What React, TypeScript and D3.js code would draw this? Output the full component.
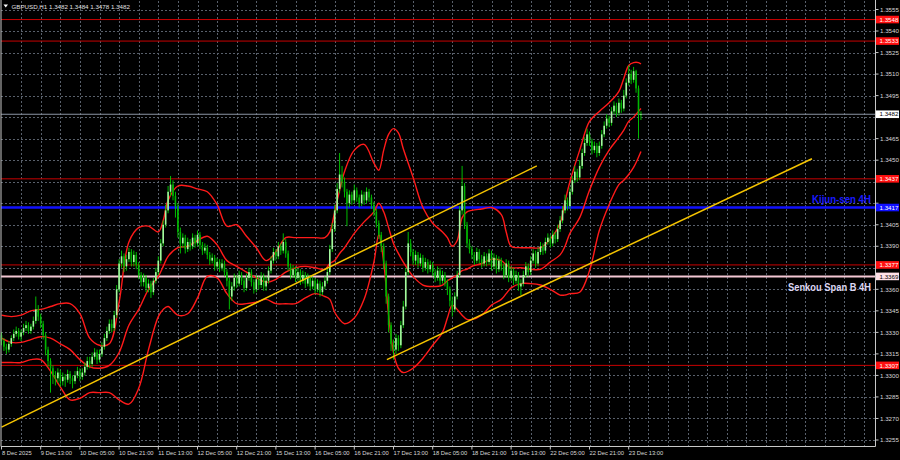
import React, { useLayoutEffect, useRef, useState } from "react";
import * as d3 from "d3";

const W = 900;
const H = 460;

const SYMBOL = "GBPUSD,H1";
const HEADER_OHLC = ["1.3482", "1.3484", "1.3478", "1.3482"];
const FIRST_OPEN = 1.3328;

const closes = [
  1.3324,1.3320,1.3318,1.3322,1.3326,1.3329,1.3331,1.3327,1.3330,1.3333,
  1.3335,1.3331,1.3334,1.3338,1.3346,1.3341,1.3336,1.3328,1.3318,1.3310,
  1.3305,1.3300,1.3298,1.3302,1.3296,1.3299,1.3297,1.3301,1.3298,1.3296,
  1.3300,1.3303,1.3299,1.3302,1.3306,1.3310,1.3308,1.3313,1.3316,1.3311,
  1.3315,1.3320,1.3326,1.3331,1.3336,1.3333,1.3342,1.3360,1.3378,1.3383,
  1.3376,1.3381,1.3386,1.3379,1.3384,1.3377,1.3370,1.3365,1.3368,1.3361,
  1.3364,1.3358,1.3366,1.3372,1.3380,1.3392,1.3405,1.3415,1.3428,1.3433,
  1.3425,1.3418,1.3400,1.3392,1.3396,1.3388,1.3393,1.3390,1.3396,1.3392,
  1.3398,1.3391,1.3387,1.3389,1.3384,1.3380,1.3382,1.3376,1.3379,1.3375,
  1.3378,1.3372,1.3366,1.3355,1.3362,1.3368,1.3364,1.3370,1.3366,1.3361,
  1.3368,1.3372,1.3365,1.3360,1.3367,1.3363,1.3369,1.3362,1.3366,1.3373,
  1.3380,1.3386,1.3383,1.3390,1.3387,1.3393,1.3385,1.3376,1.3370,1.3374,
  1.3368,1.3372,1.3366,1.3370,1.3364,1.3368,1.3362,1.3366,1.3360,1.3364,
  1.3358,1.3362,1.3366,1.3372,1.3388,1.3402,1.3415,1.3430,1.3440,1.3435,
  1.3428,1.3420,1.3426,1.3422,1.3429,1.3424,1.3420,1.3426,1.3422,1.3428,
  1.3424,1.3419,1.3414,1.3406,1.3398,1.3390,1.3378,1.3355,1.3335,1.3322,
  1.3318,1.3326,1.3321,1.3335,1.3348,1.3372,1.3392,1.3386,1.3380,1.3384,
  1.3378,1.3382,1.3375,1.3379,1.3374,1.3377,1.3372,1.3368,1.3373,1.3366,
  1.3370,1.3365,1.3360,1.3352,1.3346,1.3355,1.3370,1.3415,1.3432,1.3405,
  1.3392,1.3388,1.3384,1.3380,1.3386,1.3381,1.3378,1.3383,1.3379,1.3385,
  1.3376,1.3382,1.3374,1.3380,1.3376,1.3370,1.3378,1.3368,1.3373,1.3366,
  1.3370,1.3362,1.3364,1.3370,1.3376,1.3372,1.3380,1.3385,1.3378,1.3386,
  1.3390,1.3387,1.3393,1.3396,1.3392,1.3398,1.3395,1.3402,1.3408,1.3415,
  1.3422,1.3418,1.3428,1.3436,1.3442,1.3438,1.3446,1.3455,1.3462,1.3468,
  1.3463,1.3457,1.3460,1.3455,1.3460,1.3468,1.3474,1.3479,1.3476,1.3484,
  1.3488,1.3483,1.3490,1.3486,1.3495,1.3504,1.3510,1.3506,1.3512,1.3500,
  1.3482,1.3482,
];

const highs = [
  1.3330,1.3326,1.3322,1.3324,1.3328,1.3332,1.3334,1.3333,1.3332,1.3336,
  1.3338,1.3337,1.3336,1.3341,1.3355,1.3349,1.3343,1.3338,1.3330,1.3320,
  1.3312,1.3307,1.3303,1.3305,1.3304,1.3302,1.3301,1.3304,1.3303,1.3300,
  1.3303,1.3306,1.3305,1.3305,1.3309,1.3313,1.3313,1.3316,1.3319,1.3318,
  1.3318,1.3323,1.3329,1.3334,1.3339,1.3339,1.3345,1.3363,1.3381,1.3387,
  1.3385,1.3384,1.3389,1.3388,1.3387,1.3386,1.3379,1.3372,1.3371,1.3370,
  1.3367,1.3366,1.3368,1.3375,1.3383,1.3395,1.3408,1.3419,1.3432,1.3439,
  1.3436,1.3428,1.3420,1.3403,1.3399,1.3398,1.3396,1.3395,1.3399,1.3398,
  1.3401,1.3400,1.3393,1.3392,1.3391,1.3386,1.3385,1.3384,1.3382,1.3381,
  1.3381,1.3380,1.3374,1.3368,1.3365,1.3371,1.3370,1.3373,1.3372,1.3368,
  1.3371,1.3375,1.3374,1.3367,1.3370,1.3369,1.3372,1.3371,1.3369,1.3376,
  1.3383,1.3389,1.3388,1.3393,1.3392,1.3399,1.3395,1.3387,1.3378,1.3377,
  1.3376,1.3375,1.3374,1.3373,1.3372,1.3371,1.3370,1.3369,1.3368,1.3367,
  1.3366,1.3365,1.3369,1.3375,1.3391,1.3406,1.3419,1.3434,1.3455,1.3446,
  1.3438,1.3430,1.3429,1.3428,1.3433,1.3431,1.3426,1.3429,1.3428,1.3431,
  1.3430,1.3426,1.3421,1.3416,1.3408,1.3400,1.3392,1.3380,1.3357,1.3337,
  1.3325,1.3329,1.3328,1.3338,1.3352,1.3375,1.3400,1.3395,1.3388,1.3387,
  1.3386,1.3385,1.3384,1.3382,1.3381,1.3380,1.3379,1.3374,1.3376,1.3375,
  1.3373,1.3372,1.3367,1.3362,1.3355,1.3358,1.3373,1.3418,1.3446,1.3434,
  1.3407,1.3395,1.3390,1.3386,1.3389,1.3388,1.3384,1.3386,1.3385,1.3388,
  1.3387,1.3385,1.3384,1.3383,1.3382,1.3378,1.3381,1.3380,1.3376,1.3375,
  1.3373,1.3372,1.3367,1.3373,1.3379,1.3378,1.3383,1.3388,1.3387,1.3389,
  1.3393,1.3392,1.3396,1.3399,1.3398,1.3401,1.3400,1.3405,1.3411,1.3418,
  1.3426,1.3424,1.3431,1.3439,1.3446,1.3444,1.3450,1.3458,1.3466,1.3472,
  1.3470,1.3465,1.3463,1.3462,1.3463,1.3471,1.3477,1.3482,1.3481,1.3487,
  1.3491,1.3490,1.3493,1.3492,1.3499,1.3507,1.3516,1.3513,1.3515,1.3513,
  1.3502,1.3484,
];

const lows = [
  1.3321,1.3317,1.3315,1.3316,1.3320,1.3324,1.3327,1.3325,1.3324,1.3328,
  1.3331,1.3329,1.3329,1.3332,1.3336,1.3338,1.3333,1.3325,1.3314,1.3306,
  1.3288,1.3294,1.3293,1.3295,1.3292,1.3293,1.3292,1.3295,1.3294,1.3291,
  1.3294,1.3298,1.3296,1.3297,1.3300,1.3304,1.3305,1.3306,1.3311,1.3308,
  1.3309,1.3313,1.3318,1.3324,1.3329,1.3330,1.3331,1.3340,1.3358,1.3375,
  1.3372,1.3373,1.3379,1.3376,1.3376,1.3374,1.3367,1.3362,1.3362,1.3358,
  1.3358,1.3354,1.3356,1.3364,1.3370,1.3378,1.3390,1.3403,1.3413,1.3425,
  1.3422,1.3410,1.3396,1.3385,1.3389,1.3385,1.3386,1.3387,1.3388,1.3389,
  1.3390,1.3388,1.3384,1.3385,1.3381,1.3377,1.3378,1.3373,1.3374,1.3372,
  1.3373,1.3369,1.3362,1.3346,1.3352,1.3359,1.3361,1.3362,1.3363,1.3358,
  1.3359,1.3366,1.3362,1.3357,1.3358,1.3360,1.3361,1.3359,1.3359,1.3364,
  1.3371,1.3378,1.3380,1.3381,1.3384,1.3385,1.3382,1.3373,1.3367,1.3368,
  1.3365,1.3366,1.3363,1.3364,1.3361,1.3362,1.3359,1.3360,1.3357,1.3358,
  1.3355,1.3356,1.3360,1.3364,1.3370,1.3386,1.3400,1.3413,1.3427,1.3431,
  1.3424,1.3404,1.3417,1.3419,1.3420,1.3421,1.3417,1.3418,1.3419,1.3420,
  1.3421,1.3416,1.3411,1.3403,1.3395,1.3386,1.3374,1.3350,1.3330,1.3317,
  1.3311,1.3315,1.3317,1.3319,1.3333,1.3346,1.3370,1.3383,1.3377,1.3377,
  1.3375,1.3376,1.3372,1.3373,1.3371,1.3372,1.3369,1.3365,1.3366,1.3363,
  1.3364,1.3362,1.3356,1.3348,1.3341,1.3344,1.3353,1.3368,1.3412,1.3402,
  1.3389,1.3385,1.3381,1.3377,1.3378,1.3378,1.3375,1.3376,1.3376,1.3377,
  1.3373,1.3374,1.3371,1.3372,1.3373,1.3367,1.3368,1.3365,1.3366,1.3363,
  1.3364,1.3359,1.3356,1.3362,1.3368,1.3369,1.3370,1.3378,1.3375,1.3376,
  1.3384,1.3384,1.3385,1.3391,1.3389,1.3390,1.3392,1.3393,1.3400,1.3406,
  1.3413,1.3415,1.3416,1.3426,1.3434,1.3435,1.3436,1.3444,1.3453,1.3460,
  1.3460,1.3454,1.3455,1.3452,1.3453,1.3458,1.3466,1.3472,1.3473,1.3474,
  1.3482,1.3480,1.3481,1.3483,1.3484,1.3493,1.3502,1.3503,1.3504,1.3497,
  1.3465,1.3478,
];

// Bollinger band values read at sample bars
const bandIdx = [
  0,4,8,12,16,20,24,28,32,36,40,44,48,52,56,60,64,66,68,72,
  76,80,84,88,92,96,100,104,108,112,116,120,124,128,132,134,136,138,140,144,
  148,152,154,156,158,160,162,164,168,172,176,180,182,184,186,188,190,192,196,200,
  204,206,208,212,216,220,224,228,230,232,236,240,244,248,252,254,256,258,260,261,
];
const bandUpper = [
  1.3342,1.3341,1.3342,1.3345,1.3346,1.3348,1.3350,1.3350,1.3343,1.3326,1.3321,1.3322,1.3351,1.3393,1.3403,1.3404,1.3400,1.3408,1.3422,1.3432,
  1.3432,1.3430,1.3428,1.3419,1.3404,1.3405,1.3397,1.3389,1.3380,1.3386,1.3396,1.3396,1.3396,1.3396,1.3396,1.3400,1.3414,1.3429,1.3442,1.3457,
  1.3461,1.3448,1.3443,1.3457,1.3468,1.3472,1.3469,1.3458,1.3438,1.3417,1.3406,1.3400,1.3396,1.3390,1.3394,1.3410,1.3414,1.3415,1.3416,1.3417,
  1.3412,1.3400,1.3390,1.3389,1.3389,1.3389,1.3395,1.3406,1.3421,1.3435,1.3457,1.3477,1.3484,1.3490,1.3498,1.3507,1.3516,1.3518,1.3518,1.3517,
];
const bandMiddle = [
  1.3326,1.3323,1.3323,1.3325,1.3327,1.3326,1.3322,1.3318,1.3311,1.3306,1.3305,1.3307,1.3316,1.3335,1.3346,1.3360,1.3369,1.3376,1.3383,1.3389,
  1.3390,1.3394,1.3397,1.3391,1.3380,1.3376,1.3372,1.3368,1.3365,1.3367,1.3372,1.3375,1.3376,1.3375,1.3374,1.3378,1.3380,1.3385,1.3389,1.3399,
  1.3407,1.3414,1.3420,1.3414,1.3403,1.3392,1.3385,1.3379,1.3369,1.3363,1.3362,1.3363,1.3366,1.3368,1.3370,1.3373,1.3374,1.3376,1.3378,1.3381,
  1.3380,1.3377,1.3375,1.3375,1.3374,1.3374,1.3379,1.3384,1.3390,1.3399,1.3410,1.3429,1.3445,1.3457,1.3466,1.3471,1.3477,1.3480,1.3484,1.3486,
];
const bandLower = [
  1.3309,1.3309,1.3309,1.3311,1.3311,1.3303,1.3292,1.3283,1.3284,1.3288,1.3288,1.3288,1.3283,1.3280,1.3291,1.3318,1.3341,1.3346,1.3348,1.3342,
  1.3343,1.3354,1.3369,1.3368,1.3357,1.3350,1.3350,1.3351,1.3353,1.3350,1.3350,1.3350,1.3354,1.3357,1.3355,1.3353,1.3344,1.3339,1.3336,1.3340,
  1.3353,1.3379,1.3398,1.3379,1.3342,1.3316,1.3305,1.3302,1.3305,1.3312,1.3321,1.3330,1.3340,1.3349,1.3346,1.3342,1.3339,1.3339,1.3342,1.3349,
  1.3353,1.3357,1.3361,1.3364,1.3364,1.3363,1.3360,1.3356,1.3356,1.3357,1.3358,1.3373,1.3401,1.3419,1.3433,1.3436,1.3440,1.3445,1.3452,1.3456,
];

const timeLabels = [
  "8 Dec 2025", "9 Dec 13:00", "10 Dec 05:00", "10 Dec 21:00", "11 Dec 13:00",
  "12 Dec 05:00", "12 Dec 21:00", "15 Dec 13:00", "16 Dec 05:00", "16 Dec 21:00",
  "17 Dec 13:00", "18 Dec 05:00", "18 Dec 21:00", "19 Dec 13:00", "22 Dec 05:00",
  "22 Dec 21:00", "23 Dec 13:00",
];
const BARS_PER_LABEL = 16;
const BARS_PER_GRID = 8;

const priceTicks = [
  1.3555, 1.3540, 1.3525, 1.3510, 1.3495, 1.3480, 1.3465, 1.3450, 1.3435, 1.3420, 1.3405,
  1.3390, 1.3375, 1.3360, 1.3345, 1.3330, 1.3315, 1.3300, 1.3285, 1.3270, 1.3255,
];

const redLevels = [1.3548, 1.3533, 1.3437, 1.3377, 1.3307];
const KIJUN = 1.3417;
const SENKOU_B = 1.3369;
const CURRENT = 1.3482;
const KIJUN_LABEL = "Kijun-sen 4H";
const SENKOU_LABEL = "Senkou Span B 4H";

// [startBar, startPrice, endBar, endPrice]
const trendLines = [
  [0, 1.3264, 218.5, 1.3446],
  [157.3, 1.3311, 330.8, 1.3451],
];

const PLOT_RIGHT = 875.5;
const PLOT_BOTTOM = 446.5;
const MAX_BAR = 356;

// Bold label squeezed horizontally to a given width (condensed look)
function FitText(props: { x: number; y: number; width: number; size: number; fill: string; text: string }) {
  const ref = useRef<SVGTextElement>(null);
  const [sx, setSx] = useState(1);
  useLayoutEffect(() => {
    if (ref.current) {
      const w = ref.current.getComputedTextLength();
      if (w > 0) setSx(props.width / w);
    }
  }, [props.width, props.text, props.size]);
  return (
    <text
      ref={ref}
      transform={`translate(${props.x},${props.y}) scale(${sx},1)`}
      fontSize={props.size}
      fontWeight="bold"
      fill={props.fill}
      fontFamily="'Liberation Sans', Arial, sans-serif"
    >
      {props.text}
    </text>
  );
}

export default function App() {
  const x = d3.scaleLinear().domain([0, MAX_BAR]).range([1.5, 1.5 + MAX_BAR * 2.45]);
  const y = d3.scaleLinear().domain([1.3255, 1.3555]).range([440, 9.5]);

  const opens = closes.map((c, i) => (i === 0 ? FIRST_OPEN : closes[i - 1]));

  const bandLine = d3
    .line<[number, number]>()
    .x((d) => x(d[0]))
    .y((d) => y(d[1]))
    .curve(d3.curveCatmullRom.alpha(0.5));

  const bands = [bandUpper, bandMiddle, bandLower].map((arr) =>
    bandLine(bandIdx.map((b, k) => [b, arr[k]] as [number, number]))
  );

  const gridX: number[] = [];
  for (let b = BARS_PER_GRID; b <= MAX_BAR; b += BARS_PER_GRID) gridX.push(x(b));

  const fmt = (p: number) => p.toFixed(4);
  const font = "'Liberation Sans', Arial, sans-serif";

  const gridColor = "#59606b";
  const upBody = "#a6f7a0";
  const downBody = "#00b400";
  const wickColor = "#00d000";

  const boxes = [
    ...redLevels.map((p) => ({ p, bg: "#ff1010", fg: "#ffffff" })),
    { p: KIJUN, bg: "#1010ff", fg: "#ffffff" },
    { p: CURRENT, bg: "#ffffff", fg: "#000000" },
    { p: SENKOU_B, bg: "#ffe0e8", fg: "#000000" },
  ];

  // price labels that are hidden under a level box are not drawn
  const visibleTicks = priceTicks.filter(
    (p) => !boxes.some((b) => Math.abs(y(p) - y(b.p)) < 7)
  );

  return (
    <svg
      width={W}
      height={H}
      style={{ position: "absolute", left: 0, top: 0, display: "block", background: "#000" }}
    >
      <rect x={0} y={0} width={W} height={H} fill="#000" />

      {/* grid */}
      {priceTicks.map((p) => (
        <line key={"h" + p} x1={1} x2={PLOT_RIGHT} y1={Math.round(y(p)) + 0.5} y2={Math.round(y(p)) + 0.5}
          stroke={gridColor} strokeWidth={1} strokeDasharray="2,2" />
      ))}
      {gridX.map((gx, i) => (
        <line key={"v" + i} x1={Math.round(gx) + 0.5} x2={Math.round(gx) + 0.5} y1={1} y2={PLOT_BOTTOM}
          stroke={gridColor} strokeWidth={1} strokeDasharray="2,2" />
      ))}

      {/* horizontal levels */}
      {redLevels.map((p) => (
        <line key={"r" + p} x1={1} x2={PLOT_RIGHT} y1={y(p)} y2={y(p)} stroke="#c80000" strokeWidth={1} />
      ))}
      <line x1={1} x2={PLOT_RIGHT} y1={y(CURRENT)} y2={y(CURRENT)} stroke="#8a94a4" strokeWidth={1} />
      <line x1={1} x2={PLOT_RIGHT} y1={y(KIJUN)} y2={y(KIJUN)} stroke="#1010ff" strokeWidth={2.5} />
      <line x1={1} x2={PLOT_RIGHT} y1={y(SENKOU_B)} y2={y(SENKOU_B)} stroke="#f4c8d4" strokeWidth={2} />

      {/* bands */}
      {bands.map((d, i) => (
        <path key={"b" + i} d={d || ""} fill="none" stroke="#ff1a1a" strokeWidth={1.4} />
      ))}

      {/* candles */}
      {closes.map((c, i) => {
        const o = opens[i];
        const cx = x(i);
        const top = y(Math.max(o, c));
        const bot = y(Math.min(o, c));
        const up = c >= o;
        return (
          <g key={"c" + i}>
            <line x1={cx} x2={cx} y1={y(highs[i])} y2={y(lows[i])} stroke={wickColor} strokeWidth={0.9} />
            <rect x={cx - 0.8} y={top} width={1.6} height={Math.max(0.8, bot - top)} fill={up ? upBody : downBody} />
          </g>
        );
      })}

      {/* trend lines */}
      {trendLines.map((t, i) => (
        <line key={"t" + i} x1={x(t[0])} y1={y(t[1])} x2={x(t[2])} y2={y(t[3])} stroke="#f5c400" strokeWidth={1.5} />
      ))}

      {/* frame */}
      <line x1={1} x2={1} y1={0} y2={PLOT_BOTTOM} stroke="#c8c8c8" strokeWidth={1} />
      <line x1={PLOT_RIGHT} x2={PLOT_RIGHT} y1={0} y2={PLOT_BOTTOM} stroke="#c8c8c8" strokeWidth={1} />
      <line x1={1} x2={PLOT_RIGHT} y1={PLOT_BOTTOM} y2={PLOT_BOTTOM} stroke="#c8c8c8" strokeWidth={1} />

      {/* price axis */}
      {priceTicks.map((p) => (
        <line key={"pt" + p} x1={PLOT_RIGHT} x2={PLOT_RIGHT + 3} y1={y(p)} y2={y(p)} stroke="#c8c8c8" />
      ))}
      {visibleTicks.map((p) => (
        <text key={"pl" + p} x={880} y={y(p) + 2.2} fontSize={6.2} fill="#d8d8d8" fontFamily={font}>{fmt(p)}</text>
      ))}
      {boxes.map((b) => (
        <g key={"bx" + b.p}>
          <rect x={876} y={y(b.p) - 3.8} width={23} height={7.6} fill={b.bg} />
          <text x={879.5} y={y(b.p) + 2.2} fontSize={6.2} fill={b.fg} fontFamily={font}>{fmt(b.p)}</text>
        </g>
      ))}

      {/* time axis */}
      {timeLabels.map((t, i) => {
        const tx = x(i * BARS_PER_LABEL);
        return (
          <g key={"tl" + i}>
            <line x1={tx} x2={tx} y1={PLOT_BOTTOM} y2={PLOT_BOTTOM + 3} stroke="#c8c8c8" />
            <text x={i === 0 ? 2 : tx} y={455} fontSize={5.8} fill="#d8d8d8" fontFamily={font}>{t}</text>
          </g>
        );
      })}

      {/* header */}
      <path d="M3.5,4.5 L8,4.5 L5.75,7.5 Z" fill="#ffffff" />
      <text x={11.5} y={8.8} fontSize={6.2} fill="#e0e0e0" fontFamily={font}>
        {SYMBOL + "  " + HEADER_OHLC.join(" ")}
      </text>

      {/* level annotations */}
      <FitText x={812} y={y(KIJUN) - 5} width={59} size={11.5} fill="#1a1aff" text={KIJUN_LABEL} />
      <FitText x={788} y={y(SENKOU_B) + 14.5} width={83} size={11.5} fill="#dcd6f2" text={SENKOU_LABEL} />
    </svg>
  );
}
